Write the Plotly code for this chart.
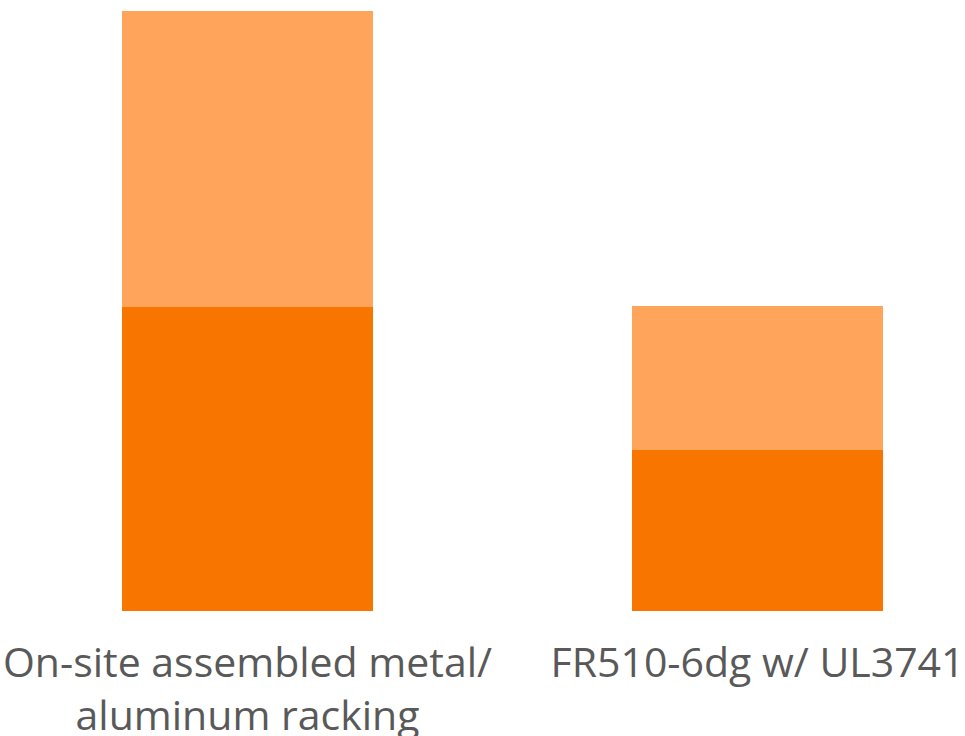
import plotly.graph_objects as go

categories = ["On-site assembled metal/<br>aluminum racking", "FR510-6dg w/ UL3741"]
bottom_values = [50.67, 26.83]
top_values = [49.33, 24.0]

bottom_color = "#F87600"
top_color = "#FEA55B"

fig = go.Figure()
fig.add_trace(go.Bar(x=categories, y=bottom_values, marker=dict(color=bottom_color, line=dict(width=0)),
                     width=251/510, showlegend=False, hoverinfo="skip"))
fig.add_trace(go.Bar(x=categories, y=top_values, marker=dict(color=top_color, line=dict(width=0)),
                     width=251/510, showlegend=False, hoverinfo="skip"))

fig.update_layout(
    barmode="stack",
    width=965, height=736,
    margin=dict(l=0, r=0, t=0, b=125, pad=0),
    paper_bgcolor="white", plot_bgcolor="white",
    xaxis=dict(type="category", range=[-247.5/510, (965-247.5)/510], showgrid=False, zeroline=False,
               showline=False, ticks="", automargin=False, ticklabelstandoff=24,
               tickfont=dict(family="Open Sans", size=41, color="#595959")),
    yaxis=dict(range=[0, 611/6], visible=False, showgrid=False, zeroline=False, automargin=False),
)

fig.write_html("out.html")
